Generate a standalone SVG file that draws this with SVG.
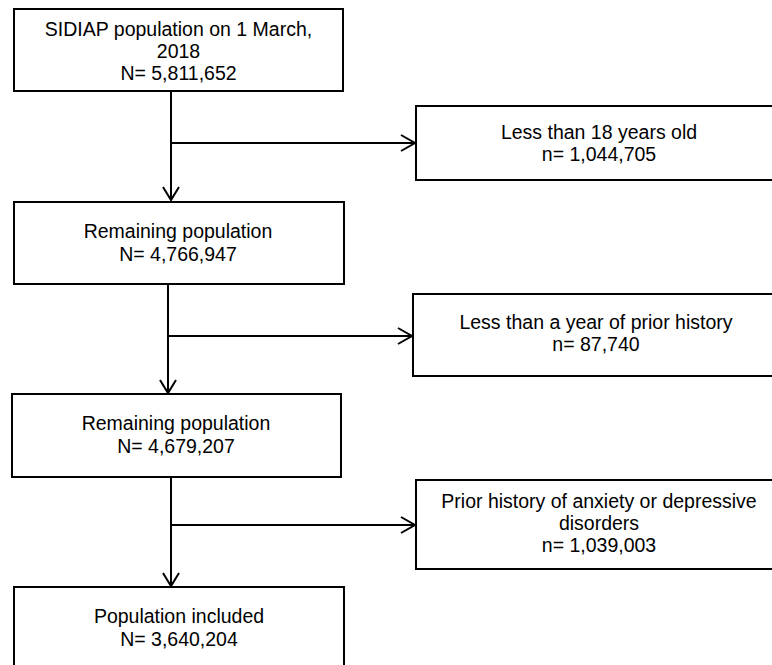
<svg xmlns="http://www.w3.org/2000/svg" width="772" height="665" viewBox="0 0 772 665">
<defs>
<style>
.box{fill:#fff;stroke:#000;stroke-width:2}
.t{font-family:"Liberation Sans",Arial,sans-serif;font-size:19.5px;fill:#000;text-anchor:middle}
.c{fill:none;stroke:#000;stroke-width:2}
.ah{fill:none;stroke:#000;stroke-width:2;stroke-linejoin:miter}
</style>
</defs>
<rect width="772" height="665" fill="#fff"/>
<g id="n1"><rect class="box" x="14" y="9" width="329" height="82"/>
<text class="t" x="178.5" y="36">SIDIAP population on 1 March,</text>
<text class="t" x="178.5" y="58">2018</text>
<text class="t" x="178.5" y="80">N= 5,811,652</text></g>
<g id="n2"><rect class="box" x="416" y="106" width="366" height="74"/>
<text class="t" x="599" y="139">Less than 18 years old</text>
<text class="t" x="599" y="161">n= 1,044,705</text></g>
<g id="n3"><rect class="box" x="14" y="202" width="330" height="82"/>
<text class="t" x="178" y="238">Remaining population</text>
<text class="t" x="178" y="261">N= 4,766,947</text></g>
<g id="n4"><rect class="box" x="413" y="294" width="366" height="82"/>
<text class="t" x="596" y="329">Less than a year of prior history</text>
<text class="t" x="596" y="351">n= 87,740</text></g>
<g id="n5"><rect class="box" x="12" y="394" width="329" height="83"/>
<text class="t" x="176" y="430">Remaining population</text>
<text class="t" x="176" y="453">N= 4,679,207</text></g>
<g id="n6"><rect class="box" x="416" y="480" width="366" height="89"/>
<text class="t" x="599" y="508">Prior history of anxiety or depressive</text>
<text class="t" x="599" y="530">disorders</text>
<text class="t" x="599" y="552">n= 1,039,003</text></g>
<g id="n7"><rect class="box" x="14" y="587" width="330" height="90"/>
<text class="t" x="179" y="623">Population included</text>
<text class="t" x="179" y="646">N= 3,640,204</text></g>
<g id="connectors">
<path class="c" d="M171 91V200M171 143H415"/>
<path class="ah" d="M163 187L171 200L179 187M401 135L415 143L401 151"/>
<path class="c" d="M168 284V393M168 336H412"/>
<path class="ah" d="M160 380L168 393L176 380M398 328L412 336L398 344"/>
<path class="c" d="M171 477V586M171 525H415"/>
<path class="ah" d="M163 573L171 586L179 573M401 517L415 525L401 533"/>
</g>
</svg>
